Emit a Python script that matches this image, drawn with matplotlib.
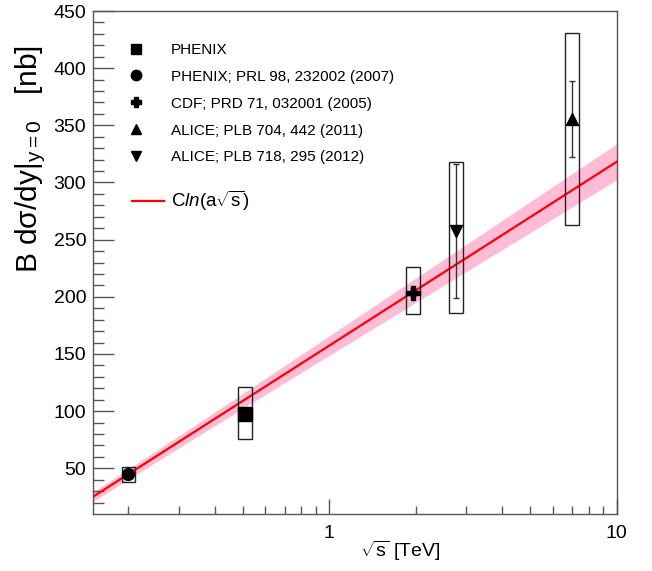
import numpy as np
import matplotlib as mpl
mpl.use('Agg')
import matplotlib.pyplot as plt
from matplotlib.lines import Line2D
from matplotlib.patches import Rectangle
from matplotlib.ticker import FixedLocator, NullFormatter, FixedFormatter

plt.rcParams['font.family'] = 'Liberation Sans'
plt.rcParams['mathtext.fontset'] = 'custom'
plt.rcParams['mathtext.rm'] = 'Liberation Sans'
plt.rcParams['mathtext.it'] = 'Liberation Sans:italic'
plt.rcParams['mathtext.sf'] = 'Liberation Sans'

# J/psi B dsigma/dy at y=0 [nb] vs sqrt(s) [TeV]
phenix_sqrts = [0.51]
phenix_val = [97.8]
phenix_stat = [4.0]
phenix_sys_lo = [75.4]
phenix_sys_hi = [121.0]

phenix07_sqrts = [0.2]
phenix07_val = [44.7]
phenix07_stat = [2.0]
phenix07_sys_lo = [37.7]
phenix07_sys_hi = [51.1]

cdf_sqrts = [1.96]
cdf_val = [203.5]
cdf_stat = [3.0]
cdf_sys_lo = [185.0]
cdf_sys_hi = [226.0]

alice11_sqrts = [7.0]
alice11_val = [355.5]
alice11_stat = [33.0]
alice11_sys_lo = [263.0]
alice11_sys_hi = [430.7]

alice12_sqrts = [2.76]
alice12_val = [257.5]
alice12_stat = [58.8]
alice12_sys_lo = [186.0]
alice12_sys_hi = [317.5]

# fit C*ln(a*sqrt(s)) and parameter uncertainties
fit_C, fit_dC = 69.8, 3.35
fit_a, fit_da_rel = 9.52, 0.057

x_min, x_max = 0.15, 10.0
y_min, y_max = 10.0, 450.0

fig = plt.figure(figsize=(6.52, 5.71), dpi=100)
ax = fig.add_axes([92.5/652, 1-514/571, (616.5-92.5)/652, (514-11)/571])
ax.set_xscale('log')
ax.set_xlim(x_min, x_max)
ax.set_ylim(y_min, y_max)

# fit curve with error band
xs = np.logspace(np.log10(x_min), np.log10(x_max), 300)
fit = fit_C*np.log(fit_a*xs)
dfit = np.sqrt((np.log(fit_a*xs)*fit_dC)**2 + (fit_C*fit_da_rel)**2)
ax.fill_between(xs, fit-dfit, fit+dfit, color='#ffbcd6', lw=0, zorder=1)
ax.plot(xs, fit, color='red', lw=1.6, zorder=2)

# systematic boxes, fixed width in log space
half = 10**0.0235
sets = [
    (phenix_sqrts, phenix_val, phenix_stat, phenix_sys_lo, phenix_sys_hi, 's', 9.5),
    (phenix07_sqrts, phenix07_val, phenix07_stat, phenix07_sys_lo, phenix07_sys_hi, 'o', 8.5),
    (cdf_sqrts, cdf_val, cdf_stat, cdf_sys_lo, cdf_sys_hi, 'P', 9.5),
    (alice11_sqrts, alice11_val, alice11_stat, alice11_sys_lo, alice11_sys_hi, '^', 8.0),
    (alice12_sqrts, alice12_val, alice12_stat, alice12_sys_lo, alice12_sys_hi, 'v', 8.0),
]
for xv, yv, st, lo, hi, mk, ms in sets:
    for x, l, h in zip(xv, lo, hi):
        ax.add_patch(Rectangle((x/half, l), x*half - x/half, h - l, fill=False,
                               edgecolor='#222222', lw=1.0, zorder=3))
    ax.errorbar(xv, yv, yerr=st, fmt=mk, color='black', ms=ms, ecolor='#333333',
                elinewidth=1.0, capsize=2.5, capthick=1.0, zorder=4)

# axes style
frame_col = '#555555'
for sp in ax.spines.values():
    sp.set_color(frame_col)
    sp.set_linewidth(1.0)
ax.xaxis.set_major_locator(FixedLocator([1, 10]))
ax.xaxis.set_major_formatter(FixedFormatter(['1', '10']))
ax.xaxis.set_minor_locator(FixedLocator([0.2, 0.3, 0.4, 0.5, 0.6, 0.7, 0.8, 0.9,
                                         2, 3, 4, 5, 6, 7, 8, 9]))
ax.xaxis.set_minor_formatter(NullFormatter())
ax.yaxis.set_major_locator(FixedLocator(np.arange(50, 451, 50)))
ax.yaxis.set_minor_locator(FixedLocator(np.arange(20, 450, 10)))
ax.tick_params(axis='both', which='both', direction='in', color=frame_col,
               width=1.0, top=False, right=False, labelsize=14)
ax.tick_params(axis='x', which='major', length=11, pad=8)
ax.tick_params(axis='x', which='minor', length=5.5)
ax.tick_params(axis='y', which='major', length=15, pad=4.5)
ax.tick_params(axis='y', which='minor', length=8)

fig.text(400/652, 1-557/571, r'$\sqrt{\mathrm{s}}$ [TeV]', fontsize=14, ha='center', va='baseline')
fig.text(37/652, 1-45/571, r'B dσ/dy$|_{\mathrm{y=0}}$   [nb]', fontsize=21.5, rotation=90,
         rotation_mode='anchor', ha='right', va='baseline')

# legend
handles = [
    Line2D([], [], ls='none', marker='s', color='black', ms=7),
    Line2D([], [], ls='none', marker='o', color='black', ms=7.5),
    Line2D([], [], ls='none', marker='P', color='black', ms=7.5),
    Line2D([], [], ls='none', marker='^', color='black', ms=7.5),
    Line2D([], [], ls='none', marker='v', color='black', ms=7.5),
]
labels = ['PHENIX', 'PHENIX; PRL 98, 232002 (2007)', 'CDF; PRD 71, 032001 (2005)',
          'ALICE; PLB 704, 442 (2011)', 'ALICE; PLB 718, 295 (2012)']
leg1 = ax.legend(handles, labels, loc='upper left', bbox_to_anchor=(120.7/652, 1-43/571),
                 bbox_transform=fig.transFigure, frameon=False, fontsize=11,
                 handlelength=2.0, handletextpad=1.29, labelspacing=0.84,
                 borderpad=0, borderaxespad=0)
ax.add_artist(leg1)
ax.legend([Line2D([], [], color='red', lw=1.6)], [r'C$\mathit{ln}$(a$\sqrt{\mathrm{s}}$)'],
          loc='upper left', bbox_to_anchor=(131.7/652, 1-189/571),
          bbox_transform=fig.transFigure, frameon=False, fontsize=13.5,
          handlelength=1.7, handletextpad=0.41, borderpad=0, borderaxespad=0)

fig.savefig('out.png', dpi=100)
